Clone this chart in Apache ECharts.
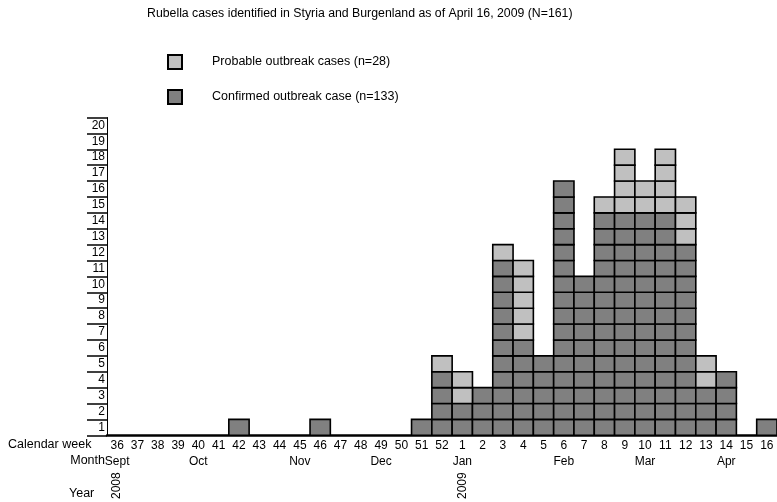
<!DOCTYPE html>
<html>
<head>
<meta charset="utf-8">
<script src="https://cdn.jsdelivr.net/npm/echarts@6/dist/echarts.min.js"></script>
<style>html,body{margin:0;padding:0;background:#fff}#c{width:777px;height:502px}</style>
</head>
<body>
<div id="c"></div>
<script>
// Calendar weeks (2008 wk 36 .. 2009 wk 16)
const weeks = ['36','37','38','39','40','41','42','43','44','45','46','47','48','49','50','51','52',
               '1','2','3','4','5','6','7','8','9','10','11','12','13','14','15','16'];
const monthLabels = ['Sept','','','','Oct','','','','','Nov','','','','Dec','','','',
                     'Jan','','','','','Feb','','','','Mar','','','','Apr','',''];
const yearLabels = ['2008','','','','','','','','','','','','','','','','',
                    '2009','','','','','','','','','','','','','','',''];
const confirmed = [0,0,0,0,0,0,1,0,0,0,1,0,0,0,0,1,4,
                   2,3,11,6,5,16,10,14,14,14,14,12,3,4,0,1];
const probable  = [0,0,0,0,0,0,0,0,0,0,0,0,0,0,0,0,1,
                   2,0,1,5,0,0,0,1,4,2,4,3,2,0,0,0];
const yTickLabels = ['1','2','3','4','5','6','7','8','9','10','11','12','13','14','15','16','17','18','19','20'];

const titleText = 'Rubella cases identified in Styria and Burgenland as of April 16, 2009 (N=161)';
const seriesNames = ['Probable outbreak cases (n=28)', 'Confirmed outbreak case (n=133)'];
const colors = {probable:'#c0c0c0', confirmed:'#808080'};
const FONT = '"Liberation Sans", Arial, Helvetica, sans-serif';

function cellRenderer(color) {
  return function (params, api) {
    const idx = api.value(0), start = api.value(1), count = api.value(2);
    const w = api.size([1, 0])[0];
    const children = [];
    for (let k = 0; k < count; k++) {
      const p0 = api.coord([idx, start + k]);
      const p1 = api.coord([idx, start + k + 1]);
      children.push({
        type: 'rect',
        shape: {x: p0[0] - w / 2, y: p1[1], width: w, height: p0[1] - p1[1]},
        style: {fill: color, stroke: '#000', lineWidth: 1.6}
      });
    }
    return {type: 'group', children: children};
  };
}

const confData = weeks.map((w, i) => [i, 0, confirmed[i]]);
const probData = weeks.map((w, i) => [i, confirmed[i], probable[i]]);

const chart = echarts.init(document.getElementById('c'), null, {renderer: 'canvas'});
chart.setOption({
  animation: false,
  textStyle: {fontFamily: FONT, color: '#000'},
  title: {
    text: titleText, left: 147, top: 8, padding: 0,
    textStyle: {fontSize: 12.3, fontWeight: 'normal', color: '#000', fontFamily: FONT}
  },
  legend: {
    orient: 'vertical', left: 167, top: 54, padding: 0,
    itemWidth: 14, itemHeight: 14, itemGap: 19, icon: 'rect',
    itemStyle: {borderColor: '#000', borderWidth: 2},
    textStyle: {fontSize: 12.5, color: '#000', fontFamily: FONT, padding: [0, 0, 0, 25]},
    data: seriesNames
  },
  grid: {left: 107, right: 0, top: 117.5, bottom: 66.5, containLabel: false},
  xAxis: [
    {
      type: 'category', data: weeks, position: 'bottom',
      axisLine: {lineStyle: {color: '#000', width: 2.5}},
      axisTick: {show: false},
      axisLabel: {interval: 0, margin: 4, fontSize: 12, color: '#000', fontFamily: FONT}
    },
    {
      type: 'category', data: weeks, position: 'bottom', offset: 16,
      axisLine: {show: false}, axisTick: {show: false},
      axisLabel: {interval: 0, margin: 4, fontSize: 12, color: '#000', fontFamily: FONT,
                  formatter: (v, i) => monthLabels[i]}
    },
    {
      type: 'category', data: weeks, position: 'bottom', offset: 33,
      axisLine: {show: false}, axisTick: {show: false},
      axisLabel: {interval: 0, margin: 4, rotate: 90, fontSize: 12, color: '#000', fontFamily: FONT,
                  formatter: (v, i) => yearLabels[i]}
    }
  ],
  yAxis: {
    type: 'value', min: 0, max: 20, interval: 1,
    axisLine: {show: true, lineStyle: {color: '#000', width: 1}},
    axisTick: {show: true, length: 20, lineStyle: {color: '#000', width: 1.5}},
    axisLabel: {margin: 2, fontSize: 12, color: '#000', fontFamily: FONT,
                verticalAlign: 'bottom', lineHeight: 16,
                formatter: (v) => (v < 20 ? yTickLabels[v] : '')},
    splitLine: {show: false}
  },
  graphic: [
    {type: 'text', left: 8, top: 438, style: {text: 'Calendar week', fill: '#000', font: '12.5px ' + FONT}},
    {type: 'text', right: 672, top: 454, style: {text: 'Month', fill: '#000', font: '12.5px ' + FONT}},
    {type: 'text', left: 69, top: 487, style: {text: 'Year', fill: '#000', font: '12.5px ' + FONT}}
  ],
  series: [
    {
      name: seriesNames[1], type: 'custom', xAxisIndex: 0,
      itemStyle: {color: colors.confirmed},
      renderItem: cellRenderer(colors.confirmed),
      encode: {x: 0, y: [1, 2]},
      data: confData, z: 1
    },
    {
      name: seriesNames[0], type: 'custom', xAxisIndex: 0,
      itemStyle: {color: colors.probable},
      renderItem: cellRenderer(colors.probable),
      encode: {x: 0, y: [1, 2]},
      data: probData, z: 1
    }
  ]
});
</script>
</body>
</html>
